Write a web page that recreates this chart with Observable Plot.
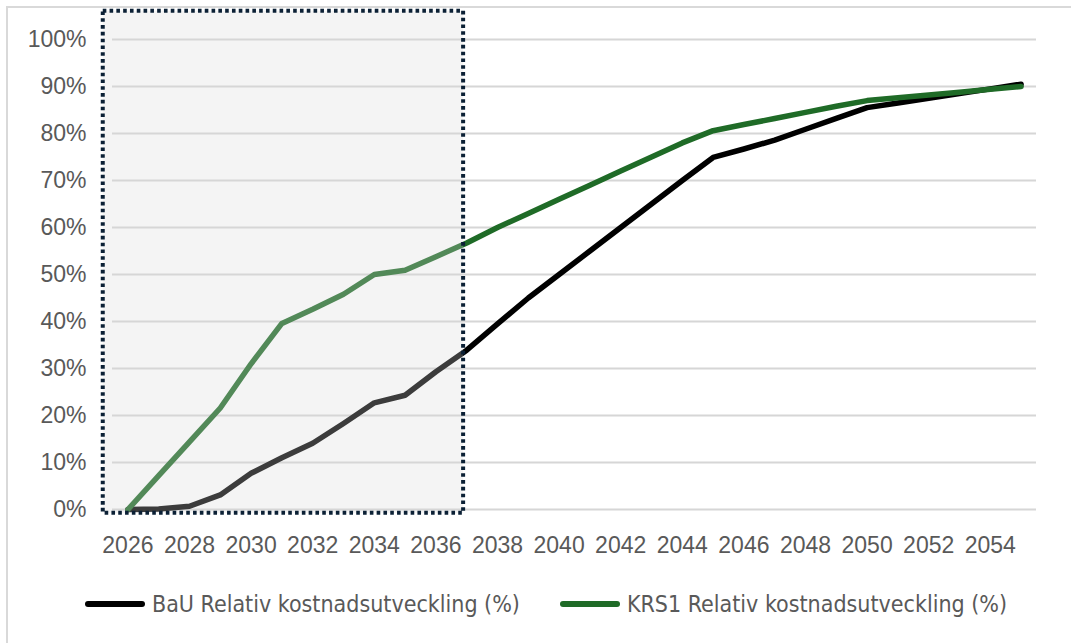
<!DOCTYPE html>
<html>
<head>
<meta charset="utf-8">
<script src="https://cdn.jsdelivr.net/npm/d3@7"></script>
<script src="https://cdn.jsdelivr.net/npm/@observablehq/plot@0.6"></script>
<style>
  html, body { margin: 0; padding: 0; background: #fff; }
  #wrap { position: relative; width: 1071px; height: 643px; overflow: hidden; font-family: "Liberation Sans", Arial, sans-serif; }
  #frame { position: absolute; left: 6px; top: 6px; width: 1200px; height: 800px; border-left: 2px solid #d9d9d9; border-top: 2px solid #d9d9d9; }
  #chart { position: absolute; left: 0; top: 0; }
  #legend { position: absolute; left: 85px; top: 591px; display: flex; align-items: center; font-family: "Liberation Sans Narrow", "DejaVu Sans Condensed", "Roboto", sans-serif; font-stretch: condensed; font-size: 23px; color: #595959; white-space: nowrap; }
  .item { display: flex; align-items: center; }
  .sw { width: 60px; height: 6px; border-radius: 3px; margin-right: 7px; }
</style>
</head>
<body>
<div id="wrap">
  <div id="frame"></div>
  <div id="chart"></div>
  <div id="legend"></div>
</div>
<script>
const years = [2026,2027,2028,2029,2030,2031,2032,2033,2034,2035,2036,2037,2038,2039,2040,2041,2042,2043,2044,2045,2046,2047,2048,2049,2050,2051,2052,2053,2054,2055];
const bau  = [0,0.001,0.007,0.031,0.077,0.110,0.141,0.183,0.227,0.243,0.293,0.339,0.395,0.450,0.500,0.550,0.600,0.650,0.700,0.749,0.767,0.786,0.809,0.832,0.855,0.865,0.875,0.885,0.895,0.905];
const krs1 = [0,0.072,0.144,0.216,0.310,0.396,0.426,0.458,0.500,0.509,0.538,0.567,0.600,0.630,0.660,0.690,0.720,0.750,0.780,0.806,0.819,0.832,0.845,0.858,0.870,0.876,0.882,0.888,0.894,0.900];
const seriesNames = ["BaU Relativ kostnadsutveckling (%)", "KRS1 Relativ kostnadsutveckling (%)"];
const seriesColors = ["#000000", "#1f6b27"];
const yTicks = [0,0.1,0.2,0.3,0.4,0.5,0.6,0.7,0.8,0.9,1.0];
const xTicks = [2026,2028,2030,2032,2034,2036,2038,2040,2042,2044,2046,2048,2050,2052,2054];
// highlighted period box (annotation)
const boxX = [2025.2, 2036.9];
const boxY = [-0.008, 1.06];

const data = [];
years.forEach((yr, i) => {
  data.push({year: yr, value: bau[i], series: seriesNames[0]});
  data.push({year: yr, value: krs1[i], series: seriesNames[1]});
});

const chart = Plot.plot({
  width: 1071,
  height: 560,
  marginLeft: 112,
  marginRight: 35,
  marginTop: 39,
  marginBottom: 51,
  style: {fontFamily: '"Liberation Sans", Arial, sans-serif', fontSize: "23px", color: "#595959", background: "transparent", overflow: "visible"},
  x: {domain: [2025.5, 2055.5], ticks: xTicks, tickFormat: d => String(d), tickSize: 0, tickPadding: 27, label: null},
  y: {domain: [0, 1], ticks: yTicks, tickFormat: d3.format(".0%"), tickSize: 0, tickPadding: 26, label: null},
  color: {domain: seriesNames, range: seriesColors},
  marks: [
    Plot.ruleY(yTicks, {stroke: "#d6d6d6", strokeWidth: 1.8}),
    Plot.line(data, {x: "year", y: "value", z: "series", stroke: "series", strokeWidth: 5.5, strokeLinecap: "round", strokeLinejoin: "round"}),
    Plot.rect([{x1: boxX[0], x2: boxX[1], y1: boxY[0], y2: boxY[1]}], {x1: "x1", x2: "x2", y1: "y1", y2: "y2", fill: "rgb(216,216,216)", fillOpacity: 0.28, stroke: "#0b2035", strokeWidth: 4, strokeDasharray: "3.6,3.2", clip: false}),
    Plot.axisX({ticks: xTicks, tickFormat: d => String(d), tickSize: 0, tickPadding: 27, fill: "#595959", fontSize: 23}),
    Plot.axisY({ticks: yTicks, tickFormat: d3.format(".0%"), tickSize: 0, tickPadding: 26, fill: "#595959", fontSize: 23})
  ]
});
document.getElementById("chart").appendChild(chart);

const legend = document.getElementById("legend");
seriesNames.forEach((name, i) => {
  const item = document.createElement("div");
  item.className = "item";
  if (i > 0) item.style.marginLeft = "40px";
  const sw = document.createElement("div");
  sw.className = "sw";
  sw.style.background = seriesColors[i];
  const t = document.createElement("span");
  t.textContent = name;
  item.appendChild(sw);
  item.appendChild(t);
  legend.appendChild(item);
});
</script>
</body>
</html>
